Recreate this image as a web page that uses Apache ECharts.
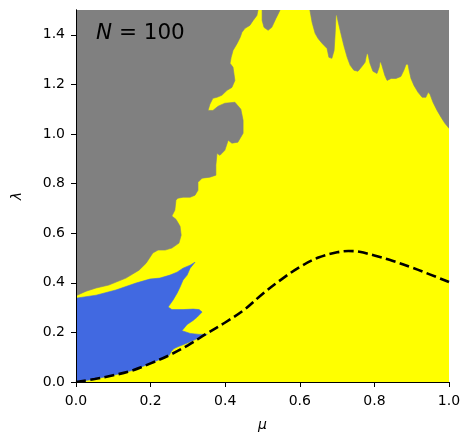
<!DOCTYPE html>
<html><head><meta charset="utf-8">
<script src="https://cdn.jsdelivr.net/npm/echarts@6/dist/echarts.min.js"></script>
<style>html,body{margin:0;padding:0;background:#fff}#c{width:464px;height:434px}</style>
</head><body><div id="c"></div>
<script>
const xTicks = [0, 0.2, 0.4, 0.6, 0.8, 1.0];
const yTicks = [0, 0.2, 0.4, 0.6, 0.8, 1.0, 1.2, 1.4];

// grey region (upper left, main)
const greyMain = [
  [0,1.5],[0.488,1.5],[0.485,1.478],[0.475,1.458],[0.466,1.438],[0.453,1.426],[0.445,1.410],
  [0.440,1.389],[0.432,1.365],[0.421,1.337],[0.416,1.309],[0.413,1.285],[0.421,1.269],[0.426,1.216],
  [0.418,1.188],[0.405,1.176],[0.391,1.156],[0.378,1.148],[0.367,1.144],[0.359,1.120],[0.354,1.095],
  [0.367,1.095],[0.381,1.112],[0.399,1.124],[0.426,1.128],[0.442,1.100],[0.448,1.055],[0.448,1.003],
  [0.434,0.967],[0.418,0.963],[0.408,0.975],[0.399,0.934],[0.386,0.914],[0.378,0.922],[0.375,0.874],
  [0.375,0.834],[0.359,0.826],[0.338,0.822],[0.327,0.805],[0.327,0.773],[0.319,0.753],[0.306,0.745],
  [0.287,0.745],[0.273,0.741],[0.268,0.733],[0.265,0.693],[0.257,0.669],[0.268,0.656],[0.279,0.628],
  [0.282,0.592],[0.276,0.560],[0.257,0.540],[0.239,0.532],[0.220,0.532],[0.206,0.520],[0.188,0.479],
  [0.169,0.451],[0.134,0.419],[0.088,0.391],[0.054,0.379],[0.027,0.366],[0,0.348]
];
// grey region (upper right)
const greyRight = [
  [0.627,1.5],[0.633,1.450],[0.641,1.406],[0.649,1.385],[0.660,1.365],[0.673,1.345],[0.678,1.309],
  [0.686,1.305],[0.692,1.337],[0.695,1.410],[0.697,1.480],[0.699,1.480],[0.702,1.458],[0.710,1.406],
  [0.718,1.357],[0.727,1.309],[0.735,1.277],[0.745,1.257],[0.756,1.253],[0.767,1.273],[0.775,1.289],
  [0.779,1.320],[0.781,1.325],[0.783,1.320],[0.788,1.285],[0.796,1.253],[0.807,1.244],[0.813,1.270],
  [0.815,1.290],[0.817,1.290],[0.820,1.277],[0.828,1.236],[0.834,1.216],[0.845,1.224],[0.858,1.224],
  [0.871,1.232],[0.879,1.257],[0.885,1.281],[0.890,1.281],[0.893,1.257],[0.898,1.224],[0.906,1.196],
  [0.917,1.168],[0.928,1.148],[0.938,1.148],[0.944,1.168],[0.949,1.160],[0.957,1.128],[0.968,1.095],
  [0.979,1.067],[0.989,1.043],[1.0,1.023],[1.0,1.5]
];
// small grey patch at the top
const greyPatch = [
  [0.499,1.5],[0.499,1.458],[0.504,1.430],[0.515,1.418],[0.525,1.430],[0.536,1.466],[0.544,1.490],[0.547,1.5]
];
// blue region (lower left)
const blueRegion = [
  [0,0.338],[0.054,0.350],[0.107,0.371],[0.161,0.399],[0.198,0.415],[0.225,0.419],[0.252,0.431],
  [0.271,0.443],[0.287,0.459],[0.306,0.471],[0.319,0.483],[0.306,0.459],[0.298,0.431],[0.287,0.411],
  [0.279,0.383],[0.271,0.358],[0.260,0.330],[0.247,0.302],[0.257,0.292],[0.287,0.292],[0.314,0.294],
  [0.330,0.292],[0.338,0.282],[0.325,0.262],[0.314,0.248],[0.298,0.232],[0.284,0.207],[0.306,0.196],
  [0.330,0.192],[0.352,0.192],[0.327,0.176],[0.300,0.158],[0.273,0.142],[0.262,0.134],[0.256,0.124],
  [0.25,0.108],[0.2,0.075],[0.15,0.046],[0.1,0.027],[0.05,0.012],[0,0]
];
// dashed curve
const curveMu = [0,0.05,0.1,0.15,0.2,0.25,0.3,0.35,0.4,0.45,0.5,0.55,0.6,0.65,0.7,0.73,0.76,0.8,0.85,0.9,0.95,1.0];
const curveLambda = [0,0.012,0.027,0.046,0.075,0.108,0.148,0.195,0.24,0.29,0.355,0.413,0.464,0.502,0.523,0.528,0.525,0.51,0.488,0.462,0.433,0.403];

const GREY = '#808080', YELLOW = '#ffff00', BLUE = '#4169e1';
const FONT = 'DejaVu Sans';

function polySeries(points, color) {
  return {
    type: 'custom', coordinateSystem: 'cartesian2d', xAxisIndex: 0, yAxisIndex: 0,
    data: [points[0]], clip: true, silent: true, z: 2,
    renderItem: function (params, api) {
      return { type: 'polygon', shape: { points: points.map(p => api.coord(p)) },
        style: { fill: color, stroke: color, lineWidth: 0.6 } };
    }
  };
}

const chart = echarts.init(document.getElementById('c'), null, { renderer: 'canvas' });
const axLine = { show: true, lineStyle: { color: '#000', width: 1 } };
chart.setOption({
  animation: false,
  title: {
    text: '{i|N}{r| = 100}', left: 96, top: 22, padding: 0,
    textStyle: { rich: {
      i: { fontFamily: FONT, fontSize: 21.5, fontStyle: 'italic', fontWeight: 'normal', color: '#000' },
      r: { fontFamily: FONT, fontSize: 21.5, fontWeight: 'normal', color: '#000' }
    } }
  },
  grid: { left: 76, right: 15, top: 10, bottom: 52, show: true, backgroundColor: YELLOW, borderWidth: 0,
    containLabel: false, outerBoundsMode: 'none' },
  xAxis: [{
    type: 'value', min: 0, max: 1, interval: 0.2, position: 'bottom', z: 10,
    name: 'μ', nameLocation: 'middle', nameGap: 36,
    nameTextStyle: { fontFamily: FONT, fontSize: 14, fontStyle: 'italic', color: '#000' },
    axisLine: axLine, splitLine: { show: false },
    axisTick: { show: true, inside: false, length: 5, lineStyle: { color: '#000' }, customValues: xTicks },
    axisLabel: { fontFamily: FONT, fontSize: 14, color: '#000', margin: 12, customValues: xTicks,
      formatter: v => Number(v).toFixed(1) }
  }, {
    type: 'value', min: 0, max: 1, position: 'top', z: 10,
    axisLine: axLine, axisTick: { show: false }, axisLabel: { show: false }, splitLine: { show: false }
  }],
  yAxis: [{
    type: 'value', min: 0, max: 1.5, interval: 0.2, position: 'left', z: 10,
    name: 'λ', nameLocation: 'middle', nameGap: 52, nameRotate: 90,
    nameTextStyle: { fontFamily: FONT, fontSize: 14, fontStyle: 'italic', color: '#000' },
    axisLine: axLine, splitLine: { show: false },
    axisTick: { show: true, inside: false, length: 5, lineStyle: { color: '#000' }, customValues: yTicks },
    axisLabel: { fontFamily: FONT, fontSize: 14, color: '#000', margin: 11, customValues: yTicks,
      formatter: v => Number(v).toFixed(1) }
  }, {
    type: 'value', min: 0, max: 1.5, position: 'right', z: 10,
    axisLine: axLine, axisTick: { show: false }, axisLabel: { show: false }, splitLine: { show: false }
  }],
  series: [
    polySeries(greyMain, GREY),
    polySeries(greyRight, GREY),
    polySeries(greyPatch, GREY),
    polySeries(blueRegion, BLUE),
    {
      type: 'line', xAxisIndex: 0, yAxisIndex: 0, z: 5, silent: true,
      data: curveMu.map((m, i) => [m, curveLambda[i]]),
      smooth: 0.35, symbol: 'none',
      lineStyle: { color: '#000', width: 2.6, type: [10, 4.4] }
    }
  ]
});
</script></body></html>
